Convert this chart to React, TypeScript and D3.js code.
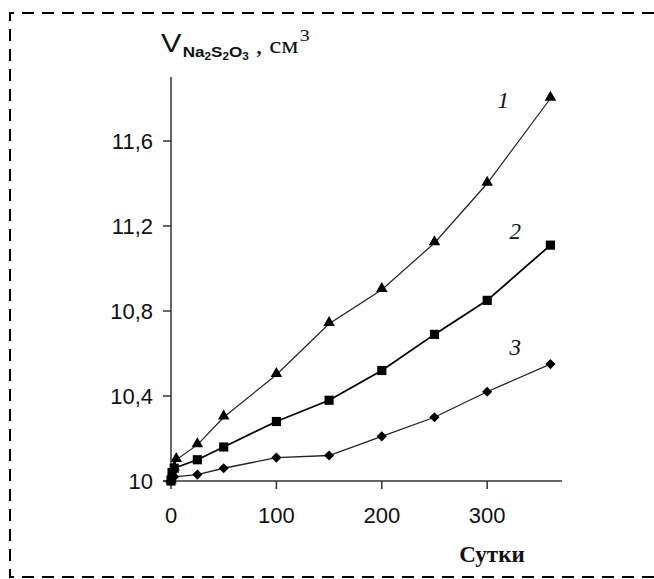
import React from "react";
import * as d3 from "d3";

// Days of storage and titrant volume for each of the three samples
const days1 = [0, 1, 3, 5, 25, 50, 100, 150, 200, 250, 300, 360];
const vol1 = [10.0, 10.03, 10.06, 10.1, 10.17, 10.3, 10.5, 10.74, 10.9, 11.12, 11.4, 11.8];

const days2 = [0, 1, 3, 25, 50, 100, 150, 200, 250, 300, 360];
const vol2 = [10.0, 10.04, 10.06, 10.1, 10.16, 10.28, 10.38, 10.52, 10.69, 10.85, 11.11];

const days3 = [0, 3, 25, 50, 100, 150, 200, 250, 300, 360];
const vol3 = [10.0, 10.02, 10.03, 10.06, 10.11, 10.12, 10.21, 10.3, 10.42, 10.55];

const xTicks = [0, 100, 200, 300];
const yTicks = [10, 10.4, 10.8, 11.2, 11.6];
const curveLabels = ["1", "2", "3"];

const W = 654;
const H = 579;
const SANS = "Liberation Sans, Arial, sans-serif";
const SERIF = "Liberation Serif, Times New Roman, serif";

export default function App() {
  const x = d3.scaleLinear().domain([0, 371]).range([171, 562]);
  const y = d3.scaleLinear().domain([10, 11.6]).range([481, 141]);
  const yTop = 77;

  const line = d3
    .line<[number, number]>()
    .x((d) => x(d[0]))
    .y((d) => y(d[1]));

  const series = [
    {
      days: days1,
      vol: vol1,
      symbol: d3.symbol(d3.symbolTriangle, 58)(),
      rotate: 0,
      dy: -1,
      width: 1.2,
      color: "#222",
    },
    {
      days: days2,
      vol: vol2,
      symbol: d3.symbol(d3.symbolSquare, 84)(),
      rotate: 0,
      dy: 0,
      width: 1.8,
      color: "#000",
    },
    {
      days: days3,
      vol: vol3,
      symbol: d3.symbol(d3.symbolSquare, 52)(),
      rotate: 45,
      dy: 0,
      width: 1.3,
      color: "#222",
    },
  ];

  const lastOf = (s: (typeof series)[number]) => s.vol[s.vol.length - 1];
  const labelDx = [-9, 3, 3];
  const labelDy = [9, -6, -9];

  return (
    <svg
      width={W}
      height={H}
      style={{ position: "absolute", left: 0, top: 0, background: "#fff" }}
    >
      {/* dashed frame */}
      <path
        d={`M${W},13 H10 V577 H${W}`}
        fill="none"
        stroke="#000"
        strokeWidth={2}
        strokeDasharray="12 8"
      />

      {/* y axis */}
      <line x1={171} x2={171} y1={yTop} y2={y(10)} stroke="#333" strokeWidth={1.5} />
      {yTicks.map((t) => (
        <g key={`y${t}`}>
          <line x1={163} x2={171} y1={y(t)} y2={y(t)} stroke="#333" strokeWidth={1.5} />
          <text
            x={153}
            y={y(t)}
            dy="0.36em"
            textAnchor="end"
            fontFamily={SANS}
            fontSize={22}
            fill="#111"
          >
            {String(t).replace(".", ",")}
          </text>
        </g>
      ))}

      {/* x axis */}
      <line x1={163} x2={562} y1={y(10)} y2={y(10)} stroke="#333" strokeWidth={1.5} />
      {xTicks.map((t) => (
        <g key={`x${t}`}>
          <line x1={x(t)} x2={x(t)} y1={y(10)} y2={y(10) + 8} stroke="#333" strokeWidth={1.5} />
          <text x={x(t)} y={523} textAnchor="middle" fontFamily={SANS} fontSize={22} fill="#111">
            {t}
          </text>
        </g>
      ))}

      {/* axis titles */}
      <text
        x={492}
        y={562}
        textAnchor="middle"
        fontFamily={SERIF}
        fontWeight="bold"
        fontSize={23}
        fill="#111"
      >
        Сутки
      </text>
      <g transform="translate(161,0) scale(1.18,1) translate(-161,0)">
        <text x={161} y={52} fill="#111">
          <tspan fontFamily={SANS} fontSize={26}>
            V
          </tspan>
          <tspan fontFamily={SANS} fontWeight="bold" fontSize={14.5} y={57.5} dx={1}>
            Na
          </tspan>
          <tspan fontFamily={SANS} fontWeight="bold" fontSize={10} y={60.5}>
            2
          </tspan>
          <tspan fontFamily={SANS} fontWeight="bold" fontSize={14.5} y={57.5}>
            S
          </tspan>
          <tspan fontFamily={SANS} fontWeight="bold" fontSize={10} y={60.5}>
            2
          </tspan>
          <tspan fontFamily={SANS} fontWeight="bold" fontSize={14.5} y={57.5}>
            O
          </tspan>
          <tspan fontFamily={SANS} fontWeight="bold" fontSize={10} y={60.5}>
            3
          </tspan>
          <tspan fontFamily={SERIF} fontSize={23} y={53.5}>
            {" , см"}
          </tspan>
          <tspan fontFamily={SERIF} fontSize={17} y={41.5} dx={1}>
            3
          </tspan>
        </text>
      </g>

      {/* curves */}
      {series.map((s, i) => {
        const pts: [number, number][] = s.days.map((d, j) => [d, s.vol[j]]);
        return (
          <g key={i}>
            <path d={line(pts) ?? ""} fill="none" stroke={s.color} strokeWidth={s.width} />
            {pts.map((p, j) => (
              <path
                key={j}
                d={s.symbol ?? ""}
                transform={`translate(${x(p[0])},${y(p[1]) + s.dy}) rotate(${s.rotate})`}
                fill="#000"
              />
            ))}
          </g>
        );
      })}

      {/* curve numbers */}
      {series.map((s, i) => (
        <text
          key={`l${i}`}
          x={x(360) - 44 + labelDx[i]}
          y={y(lastOf(s)) + labelDy[i]}
          fontFamily={SERIF}
          fontStyle="italic"
          fontSize={23}
          fill="#111"
        >
          {curveLabels[i]}
        </text>
      ))}
    </svg>
  );
}
